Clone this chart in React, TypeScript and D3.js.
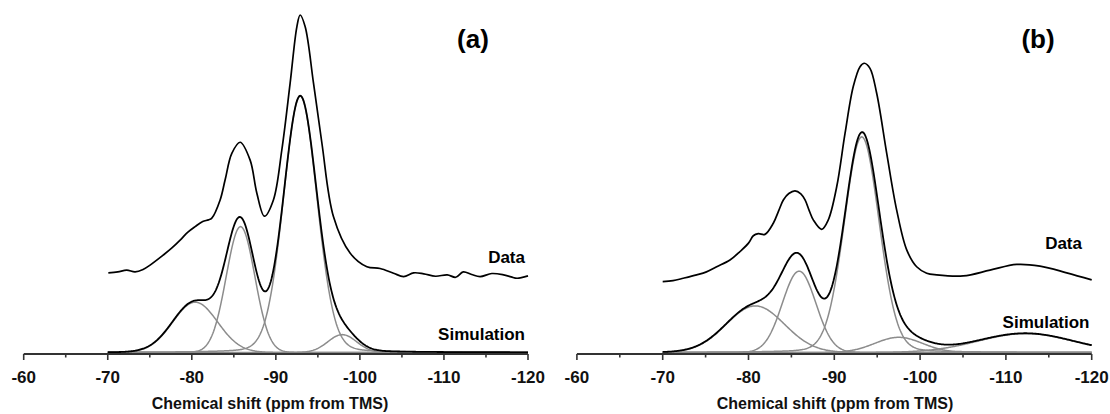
import React from "react";
import * as d3 from "d3";

// ---------- Data ----------
// Panel (a): measured spectrum
const dataPpmA = [-70.07, -71.2, -72.26, -73.25, -74.2, -75.04, -76.62, -77.6, -78.61, -79.5, -80.39, -81.3, -81.98, -82.38, -83.37, -83.96, -84.76, -85.75, -86.94, -87.74, -88.64, -89.71, -90.71, -91.7, -92.5, -92.89, -93.49, -94.48, -95.48, -96.86, -98.85, -100.83, -102.4, -104.0, -105.2, -106.4, -107.6, -109.0, -110.4, -111.4, -112.3, -113.3, -114.3, -115.7, -117.1, -118.0, -118.7, -120.0];
const dataValA = [23.6, 23.9, 24.4, 23.9, 24.6, 25.9, 28.9, 30.9, 33.3, 35.6, 37.3, 38.8, 39.3, 39.8, 45.2, 51.1, 59.0, 62.3, 57.0, 47.2, 40.4, 45.2, 60.0, 79.8, 96.5, 100, 96.5, 79.8, 62.0, 40.2, 29.4, 25.4, 24.9, 23.5, 22.5, 23.6, 23.3, 22.6, 23.0, 22.3, 23.9, 23.1, 22.5, 23.4, 23.0, 22.4, 22.0, 22.7];

// Panel (a): fitted components (peak centre ppm, height, FWHM ppm, Lorentzian fraction)
const compCentersA = [-80.4, -85.8, -92.9, -97.9];
const compHeightsA = [14.9, 37.3, 76.0, 5.3];
const compWidthsA = [6.3, 4.0, 4.7, 4.0];
const compEtaA = [0, 0, 0.1, 0];

// Panel (b): measured spectrum
const dataPpmB = [-70.0, -71.2, -72.4, -73.96, -75.1, -76.29, -77.84, -79.0, -80.0, -80.56, -81.14, -81.92, -82.89, -83.5, -84.06, -84.7, -85.42, -86.1, -86.59, -87.1, -87.55, -88.53, -89.3, -90.28, -91.25, -92.21, -93.0, -93.5, -94.16, -94.94, -96.11, -97.27, -98.44, -99.6, -100.77, -101.93, -105.03, -108.15, -111.26, -113.97, -117.09, -120.0];
const dataValB = [21.0, 21.3, 22.0, 23.0, 23.9, 25.4, 27.4, 29.9, 32.4, 34.6, 35.2, 35.0, 38.3, 41.9, 45.2, 47.1, 47.9, 47.0, 45.2, 41.9, 39.3, 36.5, 39.3, 49.1, 64.9, 78.8, 84.7, 85.7, 84.2, 76.8, 59.0, 42.2, 30.4, 25.4, 23.5, 23.0, 22.7, 24.4, 26.1, 25.6, 23.6, 21.5];

// Panel (b): fitted components
const compCentersB = [-80.8, -85.9, -93.2, -97.5, -112.3];
const compHeightsB = [13.8, 24.1, 63.9, 4.5, 5.6];
const compWidthsB = [8.0, 4.6, 4.8, 6.5, 13.0];
const compEtaB = [0, 0, 0.1, 0, 0];

const majorTicks = [-60, -70, -80, -90, -100, -110, -120];
const minorTicks = [-65, -75, -85, -95, -105, -115];
const xDomain = [-60, -120];
const fitRange = [-70, -120];

// ---------- Layout ----------
const W = 1110;
const H = 414;
const AXIS_Y = 354;
const BASE_Y = 352.5;
const TOP_Y = 15;
const FONT = "'Liberation Sans', Arial, Helvetica, sans-serif";

const yScale = d3.scaleLinear().domain([0, 100]).range([BASE_Y, TOP_Y]);

function pseudoVoigt(x: number, c: number, h: number, w: number, eta: number) {
  const t = (x - c) / w;
  const g = Math.exp(-4 * Math.LN2 * t * t);
  const l = 1 / (1 + 4 * t * t);
  return h * ((1 - eta) * g + eta * l);
}

type PanelProps = {
  x0: number;
  x1: number;
  dataPpm: number[];
  dataVal: number[];
  centers: number[];
  heights: number[];
  widths: number[];
  etas: number[];
  letter: string;
  letterX: number;
  titleX: number;
  dataLabel: [number, number];
  simLabel: [number, number];
};

function Panel(p: PanelProps) {
  const x = d3.scaleLinear().domain(xDomain).range([p.x0, p.x1]);
  const grid = d3.range(fitRange[0], fitRange[1] - 0.001, -0.1);
  const comps = p.centers.map((c, i) =>
    grid.map((g) => [g, pseudoVoigt(g, c, p.heights[i], p.widths[i], p.etas[i])] as [number, number])
  );
  const sim = grid.map((g, gi) => [g, d3.sum(comps, (cc) => cc[gi][1])] as [number, number]);
  const line = d3
    .line<[number, number]>()
    .x((d) => x(d[0]))
    .y((d) => yScale(d[1]));
  const dataLine = d3
    .line<[number, number]>()
    .x((d) => x(d[0]))
    .y((d) => yScale(d[1]))
    .curve(d3.curveCatmullRom.alpha(0.5));
  const data = p.dataPpm.map((v, i) => [v, p.dataVal[i]] as [number, number]);

  return (
    <g>
      {comps.map((cc, i) => (
        <path key={i} d={line(cc) || ""} fill="none" stroke="#8c8c8c" strokeWidth={1.5} />
      ))}
      <path d={line(sim) || ""} fill="none" stroke="#000" strokeWidth={1.8} />
      <path d={dataLine(data) || ""} fill="none" stroke="#000" strokeWidth={1.7} />
      <line x1={x(-60)} x2={x(-120)} y1={AXIS_Y} y2={AXIS_Y} stroke="#333" strokeWidth={1.8} />
      {majorTicks.map((t) => (
        <g key={t}>
          <line x1={x(t)} x2={x(t)} y1={AXIS_Y} y2={AXIS_Y + 6} stroke="#333" strokeWidth={1.6} />
          <text
            x={x(t)}
            y={382.5}
            textAnchor="middle"
            fontFamily={FONT}
            fontWeight="bold"
            fontSize={17}
            fill="#111"
          >
            {t}
          </text>
        </g>
      ))}
      {minorTicks.map((t) => (
        <line key={t} x1={x(t)} x2={x(t)} y1={AXIS_Y} y2={AXIS_Y + 3.5} stroke="#333" strokeWidth={1.6} />
      ))}
      <text x={p.titleX} y={409} textAnchor="middle" fontFamily={FONT} fontWeight="bold" fontSize={16} fill="#111">
        Chemical shift (ppm from TMS)
      </text>
      <text x={p.letterX} y={47.5} textAnchor="middle" fontFamily={FONT} fontWeight="bold" fontSize={26} fill="#000">
        {p.letter}
      </text>
      <text x={p.dataLabel[0]} y={p.dataLabel[1]} textAnchor="end" fontFamily={FONT} fontWeight="bold" fontSize={17} fill="#000">
        Data
      </text>
      <text x={p.simLabel[0]} y={p.simLabel[1]} textAnchor="end" fontFamily={FONT} fontWeight="bold" fontSize={17} fill="#000">
        Simulation
      </text>
    </g>
  );
}

export default function App() {
  return (
    <svg
      width={W}
      height={H}
      viewBox={`0 0 ${W} ${H}`}
      style={{ position: "absolute", left: 0, top: 0, background: "#fff" }}
    >
      <rect x={0} y={0} width={W} height={H} fill="#fff" />
      <Panel
        x0={23.7}
        x1={528}
        dataPpm={dataPpmA}
        dataVal={dataValA}
        centers={compCentersA}
        heights={compHeightsA}
        widths={compWidthsA}
        etas={compEtaA}
        letter="(a)"
        letterX={473}
        titleX={270}
        dataLabel={[525, 263]}
        simLabel={[525, 339.5]}
      />
      <Panel
        x0={576.9}
        x1={1091.7}
        dataPpm={dataPpmB}
        dataVal={dataValB}
        centers={compCentersB}
        heights={compHeightsB}
        widths={compWidthsB}
        etas={compEtaB}
        letter="(b)"
        letterX={1038}
        titleX={835}
        dataLabel={[1082, 249]}
        simLabel={[1089.5, 327.5]}
      />
    </svg>
  );
}
